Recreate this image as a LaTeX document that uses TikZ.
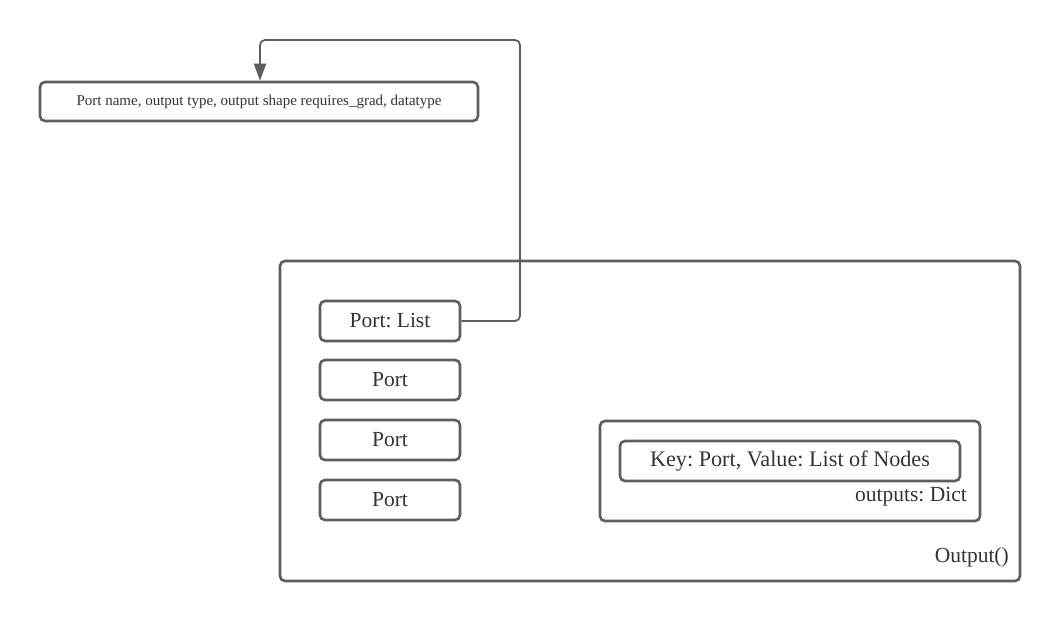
\documentclass[tikz,border=0pt]{standalone}
\usepackage{fontspec}
\setmainfont{Liberation Serif}
\usetikzlibrary{arrows.meta}
\definecolor{edge}{HTML}{5E5E5E}
\definecolor{txt}{HTML}{333333}
\frenchspacing
\tikzset{
  box/.style={draw=edge, line width=2.6pt, rounded corners=5pt, inner sep=0pt, text=txt},
  conn/.style={draw=edge, line width=1.8pt, rounded corners=5pt},
  big/.style={font=\fontsize{21.5}{24}\selectfont},
}
\begin{document}
\begin{tikzpicture}[x=1pt,y=-1pt]
\useasboundingbox (0,0) rectangle (1060,622);
% top info box
\node[box, minimum width=438pt, minimum height=39pt, font=\fontsize{15}{17}\selectfont] (info) at (259,101.5) {Port name, output type, output shape requires\_grad, datatype};
% outer Output box
\node[box, minimum width=740pt, minimum height=320pt] (outer) at (650,421) {};
\node[text=txt, big, anchor=east, inner sep=0pt] (outlbl) at (1009,557) {Output()};
% ports
\node[box, minimum width=140pt, minimum height=40pt, big] (plist) at (390,321) {Port: List};
\node[box, minimum width=140pt, minimum height=40pt, big] (p1) at (390,380) {Port};
\node[box, minimum width=140pt, minimum height=40pt, big] (p2) at (390,440) {Port};
\node[box, minimum width=140pt, minimum height=40pt, big] (p3) at (390,500) {Port};
% outputs dict
\node[box, minimum width=380pt, minimum height=100pt] (dict) at (790,471) {};
\node[box, minimum width=340pt, minimum height=40pt, font=\fontsize{22.2}{25}\selectfont] (kv) at (790,461) {Key: Port, Value: List of Nodes};
\node[text=txt, big, anchor=east, inner sep=0pt] (dictlbl) at (967,497) {outputs: Dict};
% connector
\coordinate (c1) at (520,321);
\coordinate (c2) at (520,40);
\coordinate (c3) at (260,40);
\draw[conn, -{Triangle[width=12pt,length=17pt]}] (plist.east) -- (c1) -- (c2) -- (c3) -- (info.north -| c3);
\end{tikzpicture}
\end{document}
